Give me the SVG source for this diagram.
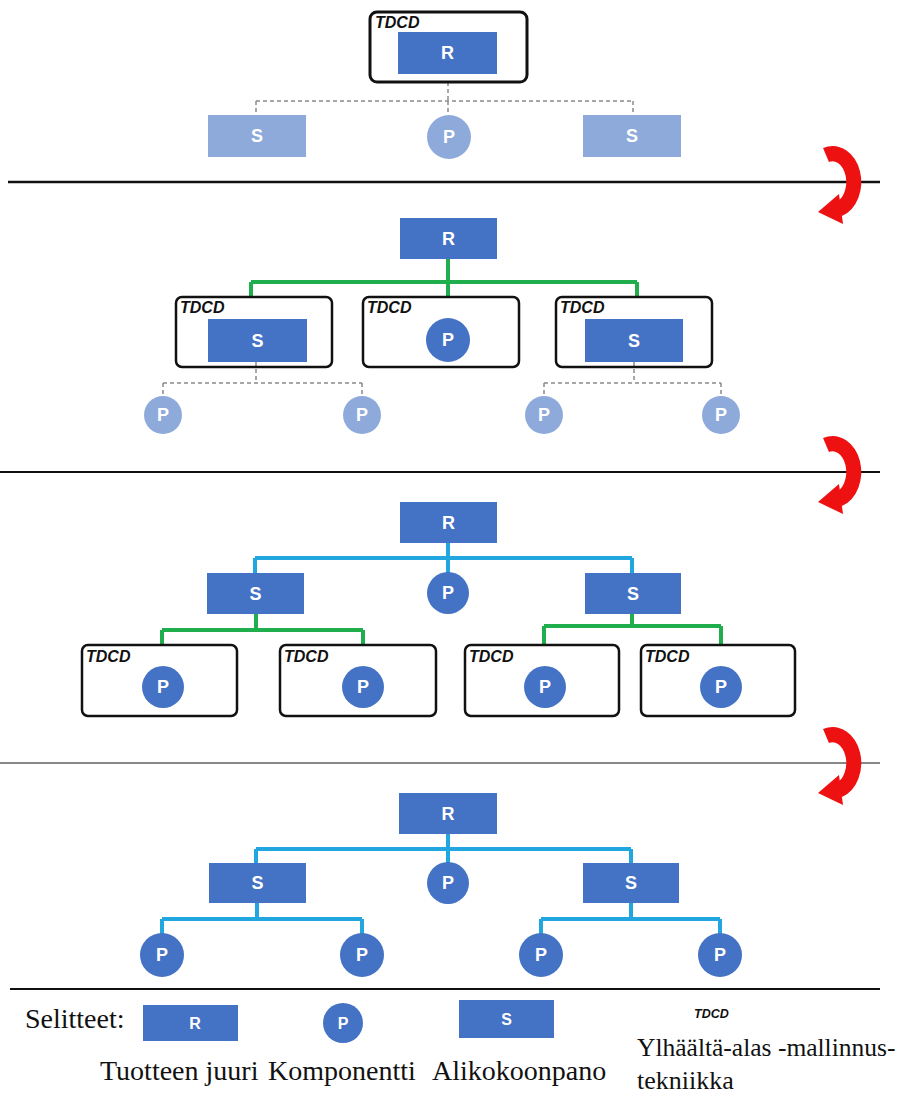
<svg xmlns="http://www.w3.org/2000/svg" xmlns:xlink="http://www.w3.org/1999/xlink" width="901" height="1101" viewBox="0 0 901 1101">
  <style>
    .node{fill:#4472C4}
    .pale{fill:#8EAADB}
    .lbl{font-family:"Liberation Sans",Arial,sans-serif;font-weight:bold;font-size:18px;fill:#fff;text-anchor:middle;dominant-baseline:central}
    .frame{fill:none;stroke:#111;stroke-width:2.5}
    .tdcd{font-family:"Liberation Sans",Arial,sans-serif;font-weight:bold;font-style:italic;font-size:16px;fill:#111}
    .dash{stroke:#8a8a8a;stroke-width:1.5;stroke-dasharray:4 3;fill:none}
    .green{stroke:#1FAE4B;stroke-width:4;fill:none}
    .cyan{stroke:#22A6DF;stroke-width:4;fill:none}
    .sep{stroke:#111;fill:none}
    .legend{font-family:"Liberation Serif","Times New Roman",serif;font-size:28px;fill:#111}
    .legend-sm{font-size:16px}
  </style>
  <defs>
    <!-- red turn arrow, drawn relative to its separator line at y=0 -->
    <g id="turn-arrow">
      <path d="M 826 -27 A 21 28 0 0 1 839 27" fill="none" stroke="#ee1111" stroke-width="15"/>
      <polygon points="839,12 843,42 818,30" fill="#ee1111"/>
    </g>
  </defs>
  <rect width="901" height="1101" fill="#fff"/>

  <!-- separators and turn arrows -->
  <g id="separators">
    <line class="sep" x1="8" y1="182" x2="880" y2="182" stroke-width="2.5"/>
    <line class="sep" x1="0" y1="472" x2="880" y2="472" stroke-width="2"/>
    <line class="sep" x1="0" y1="763" x2="880" y2="763" stroke-width="1.2"/>
    <line class="sep" x1="10" y1="989" x2="880" y2="989" stroke-width="2" stroke="#333"/>
    <use xlink:href="#turn-arrow" transform="translate(0,182)"/>
    <use xlink:href="#turn-arrow" transform="translate(0,472)"/>
    <use xlink:href="#turn-arrow" transform="translate(0,763)"/>
  </g>

  <g id="connectors">
    <!-- stage 1 -->
    <path class="dash" d="M448 82 V101 M256 101 H633 M256 101 V116 M448 101 V115 M633 101 V116"/>
    <!-- stage 2 -->
    <path class="green" d="M448 259 V297 M251 282 H637 M251 282 V297 M637 282 V297"/>
    <path class="dash" d="M256 362 V383 M163 383 H362 M163 383 V396 M362 383 V396"/>
    <path class="dash" d="M634 362 V383 M544 383 H721 M544 383 V396 M721 383 V396"/>
    <!-- stage 3 -->
    <path class="cyan" d="M448 543 V573 M255 558 H632 M255 558 V573 M632 558 V573"/>
    <path class="green" d="M256 614 V630 M162 630 H363 M162 630 V645 M363 630 V645"/>
    <path class="green" d="M632 614 V626 M544 626 H721 M544 626 V645 M721 626 V645"/>
    <!-- stage 4 -->
    <path class="cyan" d="M448 834 V863 M256 849 H631 M256 849 V863 M631 849 V863"/>
    <path class="cyan" d="M257 903 V919 M162 919 H362 M162 919 V934 M362 919 V934"/>
    <path class="cyan" d="M631 903 V919 M541 919 H720 M541 919 V934 M720 919 V934"/>
  </g>

  <!-- stage 1 -->
  <g id="s1-root">
    <rect x="398" y="32" width="99" height="42" class="node"/>
    <text x="447.5" y="53" class="lbl">R</text>
    <rect x="370" y="12" width="157" height="70" rx="7" class="frame" style="stroke-width:3"/>
    <text x="375" y="28" class="tdcd">TDCD</text>
  </g>
  <g id="s1-sub-left">
    <rect x="208" y="115" width="98" height="42" class="pale"/>
    <text x="257" y="136" class="lbl">S</text>
  </g>
  <g id="s1-part">
    <circle cx="449" cy="137" r="22" class="pale"/>
    <text x="449" y="137" class="lbl">P</text>
  </g>
  <g id="s1-sub-right">
    <rect x="583" y="115" width="98" height="42" class="pale"/>
    <text x="632" y="136" class="lbl">S</text>
  </g>

  <!-- stage 2 -->
  <g id="s2-root">
    <rect x="400" y="218" width="97" height="41" class="node"/>
    <text x="448.5" y="238.5" class="lbl">R</text>
  </g>
  <g id="s2-sub-left">
    <rect x="176" y="297" width="156" height="70" rx="6" class="frame"/>
    <text x="180" y="313" class="tdcd">TDCD</text>
    <rect x="208" y="319" width="99" height="43" class="node"/>
    <text x="257.5" y="340.5" class="lbl">S</text>
  </g>
  <g id="s2-part">
    <rect x="363" y="297" width="156" height="70" rx="6" class="frame"/>
    <text x="367" y="313" class="tdcd">TDCD</text>
    <circle cx="448" cy="340" r="22" class="node"/>
    <text x="448" y="340" class="lbl">P</text>
  </g>
  <g id="s2-sub-right">
    <rect x="556" y="297" width="156" height="70" rx="6" class="frame"/>
    <text x="560" y="313" class="tdcd">TDCD</text>
    <rect x="585" y="319" width="98" height="43" class="node"/>
    <text x="634" y="340.5" class="lbl">S</text>
  </g>
  <g id="s2-parts">
    <circle cx="163" cy="415" r="19" class="pale"/>
    <text x="163" y="415" class="lbl">P</text>
    <circle cx="362" cy="415" r="19" class="pale"/>
    <text x="362" y="415" class="lbl">P</text>
    <circle cx="544" cy="415" r="19" class="pale"/>
    <text x="544" y="415" class="lbl">P</text>
    <circle cx="721" cy="415" r="19" class="pale"/>
    <text x="721" y="415" class="lbl">P</text>
  </g>

  <!-- stage 3 -->
  <g id="s3-root">
    <rect x="400" y="502" width="97" height="41" class="node"/>
    <text x="448.5" y="522.5" class="lbl">R</text>
  </g>
  <g id="s3-sub-left">
    <rect x="207" y="573" width="97" height="41" class="node"/>
    <text x="255.5" y="593.5" class="lbl">S</text>
  </g>
  <g id="s3-part">
    <circle cx="448" cy="593" r="21" class="node"/>
    <text x="448" y="593" class="lbl">P</text>
  </g>
  <g id="s3-sub-right">
    <rect x="585" y="573" width="96" height="41" class="node"/>
    <text x="633" y="593.5" class="lbl">S</text>
  </g>
  <g id="s3-part-1">
    <rect x="82" y="645" width="155" height="71" rx="6" class="frame"/>
    <text x="86" y="662" class="tdcd">TDCD</text>
    <circle cx="163" cy="687" r="21" class="node"/>
    <text x="163" y="687" class="lbl">P</text>
  </g>
  <g id="s3-part-2">
    <rect x="280" y="645" width="156" height="71" rx="6" class="frame"/>
    <text x="284" y="662" class="tdcd">TDCD</text>
    <circle cx="363" cy="687" r="21" class="node"/>
    <text x="363" y="687" class="lbl">P</text>
  </g>
  <g id="s3-part-3">
    <rect x="465" y="645" width="154" height="71" rx="6" class="frame"/>
    <text x="469" y="662" class="tdcd">TDCD</text>
    <circle cx="545" cy="687" r="21" class="node"/>
    <text x="545" y="687" class="lbl">P</text>
  </g>
  <g id="s3-part-4">
    <rect x="641" y="645" width="154" height="71" rx="6" class="frame"/>
    <text x="645" y="662" class="tdcd">TDCD</text>
    <circle cx="721" cy="687" r="21" class="node"/>
    <text x="721" y="687" class="lbl">P</text>
  </g>

  <!-- stage 4 -->
  <g id="s4-root">
    <rect x="399" y="793" width="98" height="41" class="node"/>
    <text x="448" y="813.5" class="lbl">R</text>
  </g>
  <g id="s4-sub-left">
    <rect x="209" y="863" width="97" height="40" class="node"/>
    <text x="257.5" y="883" class="lbl">S</text>
  </g>
  <g id="s4-part">
    <circle cx="448" cy="883" r="21" class="node"/>
    <text x="448" y="883" class="lbl">P</text>
  </g>
  <g id="s4-sub-right">
    <rect x="583" y="863" width="96" height="40" class="node"/>
    <text x="631" y="883" class="lbl">S</text>
  </g>
  <g id="s4-parts">
    <circle cx="162" cy="955" r="22" class="node"/>
    <text x="162" y="955" class="lbl">P</text>
    <circle cx="362" cy="955" r="22" class="node"/>
    <text x="362" y="955" class="lbl">P</text>
    <circle cx="541" cy="955" r="22" class="node"/>
    <text x="541" y="955" class="lbl">P</text>
    <circle cx="720" cy="955" r="22" class="node"/>
    <text x="720" y="955" class="lbl">P</text>
  </g>

  <!-- legend -->
  <g id="legend">
    <text x="25" y="1028" class="legend">Selitteet:</text>
    <rect x="143" y="1005" width="95" height="36" class="node"/>
    <text x="195" y="1023" class="lbl legend-sm">R</text>
    <circle cx="343" cy="1023" r="20" class="node"/>
    <text x="343" y="1023" class="lbl legend-sm">P</text>
    <rect x="459" y="1000" width="95" height="38" class="node"/>
    <text x="506.5" y="1019" class="lbl legend-sm">S</text>
    <text x="694" y="1018" class="tdcd" style="font-size:12.5px">TDCD</text>
    <text x="100" y="1080" class="legend">Tuotteen juuri</text>
    <text x="268" y="1080" class="legend">Komponentti</text>
    <text x="432" y="1080" class="legend">Alikokoonpano</text>
    <text x="637" y="1056" class="legend" style="font-size:25.5px">Ylhäältä-alas -mallinnus-</text>
    <text x="637" y="1089" class="legend" style="font-size:26px">tekniikka</text>
  </g>
</svg>
